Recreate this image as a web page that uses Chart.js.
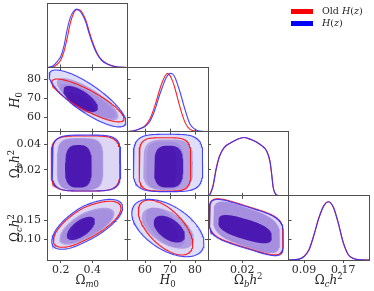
<!DOCTYPE html>
<html><head><meta charset="utf-8">
<script src="https://cdn.jsdelivr.net/npm/chart.js@4.4.0/dist/chart.umd.min.js"></script>
<style>
html,body{margin:0;padding:0;background:#fff;}
#wrap{position:relative;width:374px;height:291px;overflow:hidden;background:#fff;}
#wrap canvas{position:absolute;left:0;top:0;}
.lab{position:absolute;font-family:"DejaVu Serif",serif;font-size:12px;color:#222;white-space:nowrap;line-height:1;transform:translate(-50%,-50%);}
.lab.rot{transform:translate(-50%,-50%) rotate(-90deg);}
.lab i{font-style:italic;}
.sb{font-size:8.5px;position:relative;top:3px;}
.sp{font-size:8.5px;position:relative;top:-5px;}
.leg{position:absolute;font-family:"DejaVu Serif",serif;font-size:9.5px;color:#222;white-space:nowrap;line-height:1;}
.sw{position:absolute;width:22px;height:5px;}
</style></head><body><div id="wrap"></div>
<script>
// ---------- data ----------
const paramLabels = ['Ωm0', 'H0', 'Ωbh2', 'Ωch2'];
const legendLabels = ['Old H(z)', 'H(z)'];
// axis ranges (x in columns, y in rows)
const xRanges = [[0.113, 0.623], [53.0, 85.2], [-0.001, 0.0484], [0.058, 0.223]];
const yRanges = [[0, 1.1], [52.6, 86.0], [0.0, 0.0495], [0.046, 0.215]];
const xTicks = [[0.2, 0.4], [60, 70, 80], [0.02], [0.09, 0.17]];
const yTicks = [[], [60, 70, 80], [0.02, 0.04], [0.10, 0.15]];
const xDecimals = [1, 0, 2, 2];
const yDecimals = [1, 0, 2, 2];

// 1D marginals (normalised density)
const omGrid = [0.12, 0.15, 0.18, 0.20, 0.22, 0.24, 0.26, 0.28, 0.30, 0.32, 0.34, 0.36, 0.38, 0.40, 0.43, 0.46, 0.50, 0.55, 0.62];
const omBlue = [0.0, 0.025, 0.11, 0.19, 0.36, 0.64, 0.85, 0.96, 1.0, 0.97, 0.89, 0.77, 0.58, 0.42, 0.23, 0.12, 0.05, 0.012, 0.0];
const omRed  = [0.0, 0.01, 0.06, 0.13, 0.27, 0.49, 0.75, 0.92, 0.99, 0.99, 0.92, 0.80, 0.62, 0.45, 0.25, 0.13, 0.055, 0.013, 0.0];

const h0Grid = [53, 56, 58, 60, 62, 64, 66, 67, 68, 69, 70, 71, 72, 74, 76, 78, 80, 82, 85];
const h0Blue = [0.0, 0.02, 0.05, 0.09, 0.18, 0.38, 0.65, 0.77, 0.88, 0.96, 1.0, 0.99, 0.93, 0.68, 0.38, 0.13, 0.04, 0.01, 0.0];
const h0Red  = [0.0, 0.02, 0.05, 0.10, 0.22, 0.45, 0.74, 0.86, 0.95, 1.0, 0.96, 0.87, 0.74, 0.42, 0.16, 0.04, 0.01, 0.0, 0.0];

const obGrid = [0.0, 0.002, 0.004, 0.006, 0.009, 0.013, 0.017, 0.021, 0.025, 0.029, 0.032, 0.035, 0.037, 0.038, 0.039, 0.0405, 0.042, 0.048];
const obBlue = [0.01, 0.15, 0.45, 0.67, 0.83, 0.91, 0.97, 1.0, 0.97, 0.92, 0.86, 0.77, 0.60, 0.40, 0.15, 0.03, 0.005, 0.0];
const obRed  = [0.02, 0.17, 0.47, 0.68, 0.83, 0.91, 0.97, 1.0, 0.97, 0.92, 0.86, 0.77, 0.59, 0.38, 0.14, 0.03, 0.005, 0.0];

const ocGrid = [0.058, 0.08, 0.09, 0.10, 0.11, 0.12, 0.13, 0.14, 0.15, 0.16, 0.17, 0.18, 0.19, 0.20, 0.223];
const ocBlue = [0.0, 0.015, 0.06, 0.17, 0.42, 0.71, 0.92, 1.0, 0.91, 0.64, 0.31, 0.10, 0.03, 0.008, 0.0];
const ocRed  = [0.0, 0.016, 0.065, 0.18, 0.43, 0.72, 0.93, 1.0, 0.90, 0.63, 0.30, 0.10, 0.03, 0.008, 0.0];

// 2D credible regions, outer -> inner: [xLo, xHi, yLo, yHi, tilt, skew, squareness]
const omH0Red  = [[0.143, 0.601, 57.7, 80.0, -0.85, 0, 2], [0.19, 0.55, 59.5, 77.5, -0.82, 0, 2], [0.234, 0.417, 62.3, 73.2, -0.7, 0, 2]];
const omH0Blue = [[0.126, 0.613, 55.1, 84.7, -0.82, 0, 2], [0.175, 0.565, 58.5, 80.5, -0.8, 0, 2], [0.215, 0.436, 62.9, 76.4, -0.68, 0, 2]];
const omObRed  = [[0.139, 0.575, 0.0038, 0.0462, 0, 0, 4.5], [0.18, 0.465, 0.0045, 0.044, 0, 0, 4], [0.235, 0.40, 0.0064, 0.039, 0, 0, 3]];
const omObBlue = [[0.145, 0.580, 0.0038, 0.0469, 0, 0, 4.5], [0.175, 0.47, 0.0045, 0.0446, 0, 0, 4], [0.227, 0.396, 0.0064, 0.0392, 0, 0, 3]];
const h0ObRed  = [[57.6, 78.3, 0.0038, 0.0448, 0, 0, 4.5], [60.5, 75.5, 0.005, 0.042, 0, 0, 3.5], [63.6, 72.5, 0.0064, 0.0385, 0, 0, 3]];
const h0ObBlue = [[55.3, 83.1, 0.0033, 0.0475, 0, 0, 4], [59.2, 79.2, 0.0045, 0.0435, 0, 0, 3.5], [63.6, 75.3, 0.0064, 0.0387, 0, 0, 3]];
const omOcRed  = [[0.153, 0.582, 0.0795, 0.201, 0.70, 0.1, 2], [0.20, 0.53, 0.090, 0.180, 0.70, 0.1, 2], [0.27, 0.406, 0.107, 0.156, 0.62, 0, 2]];
const omOcBlue = [[0.143, 0.592, 0.0742, 0.2058, 0.68, 0.1, 2], [0.19, 0.54, 0.086, 0.184, 0.68, 0.1, 2], [0.238, 0.417, 0.0987, 0.160, 0.62, 0, 2]];
const h0OcRed  = [[57.3, 79.1, 0.0592, 0.204, -0.6, 0, 2], [60.3, 76.0, 0.0795, 0.184, -0.6, 0, 2], [63.3, 73.3, 0.095, 0.160, -0.55, 0, 2]];
const h0OcBlue = [[54.7, 83.6, 0.0547, 0.2058, -0.52, 0, 2], [58.7, 79.6, 0.0756, 0.184, -0.52, 0, 2], [63.5, 76.0, 0.092, 0.163, -0.5, 0, 2]];
const obOcRed  = [[-0.0002, 0.0450, 0.0594, 0.2075, -0.48, 0, 4.5], [0.0022, 0.0431, 0.0650, 0.2005, -0.5, 0, 3.5], [0.0053, 0.0381, 0.0905, 0.1650, -0.6, 0, 2.8]];
const obOcBlue = [[-0.0002, 0.0452, 0.0574, 0.2058, -0.48, 0, 4.5], [0.0022, 0.0431, 0.0637, 0.1995, -0.5, 0, 3.5], [0.0053, 0.0381, 0.0900, 0.1645, -0.6, 0, 2.8]];

// ---------- layout / style ----------
const W = 374, H = 291;
const colEdges = [47, 127.5, 208, 288.5, 369];
const rowEdges = [3.3, 67.5, 131.7, 195.9, 260];
const frameColor = '#505050';
const tickFont = {family: '"DejaVu Serif", serif', size: 11};
const redLine = 'rgba(255,20,20,0.95)', blueLine = 'rgba(50,50,255,0.9)';
const redFill = ['rgb(255,235,240)', 'rgb(175,140,220)', 'rgb(110,0,150)'];
const blueFill = ['rgba(200,200,248,0.6)', 'rgba(148,122,212,0.6)', 'rgba(55,0,170,0.8)'];
const wrap = document.getElementById('wrap');

function regionPoints(p) {
  const [xlo, xhi, ylo, yhi, rho, skew, n] = p;
  const N = 180, raw = [];
  for (let k = 0; k < N; k++) {
    const t = 2 * Math.PI * k / N, c = Math.cos(t), s = Math.sin(t);
    const u = Math.sign(c) * Math.pow(Math.abs(c), 2 / n);
    const v = Math.sign(s) * Math.pow(Math.abs(s), 2 / n);
    raw.push([u * (u < 0 ? 1 - skew : 1 + skew), rho * u + Math.sqrt(1 - rho * rho) * v]);
  }
  const xs = raw.map(r => r[0]), ys = raw.map(r => r[1]);
  const x0 = Math.min(...xs), x1 = Math.max(...xs), y0 = Math.min(...ys), y1 = Math.max(...ys);
  const pts = raw.map(r => ({x: xlo + (r[0] - x0) / (x1 - x0) * (xhi - xlo), y: ylo + (r[1] - y0) / (y1 - y0) * (yhi - ylo)}));
  pts.push(pts[0]);
  return pts;
}

function regionSets(red, blue) {
  const ds = [];
  red.forEach((p, k) => ds.push({data: regionPoints(p), showLine: true, fill: 'shape', backgroundColor: redFill[k], borderColor: 'rgba(0,0,0,0)', borderWidth: 0, pointRadius: 0, order: 100 - k}));
  blue.forEach((p, k) => ds.push({data: regionPoints(p), showLine: true, fill: 'shape', backgroundColor: blueFill[k], borderColor: 'rgba(0,0,0,0)', borderWidth: 0, pointRadius: 0, order: 90 - k}));
  ds.push({data: regionPoints(red[0]), showLine: true, fill: false, borderColor: redLine, borderWidth: 1.1, pointRadius: 0, order: 11});
  ds.push({data: regionPoints(blue[0]), showLine: true, fill: false, borderColor: blueLine, borderWidth: 1.1, pointRadius: 0, order: 10});
  return ds;
}

function curveSets(grid, red, blue) {
  const mk = (vals, col, ord) => ({data: grid.map((x, k) => ({x, y: vals[k]})), showLine: true, fill: false, borderColor: col, borderWidth: 1.1, pointRadius: 0, cubicInterpolationMode: 'monotone', order: ord});
  return [mk(red, redLine, 2), mk(blue, blueLine, 1)];
}

function panel(i, j, datasets) {
  const cv = document.createElement('canvas');
  cv.width = W; cv.height = H;
  wrap.appendChild(cv);
  const L = colEdges[j], R = colEdges[j + 1], T = rowEdges[i], B = rowEdges[i + 1];
  const diag = i === j;
  const xt = xTicks[j], yt = diag ? [] : yTicks[i];
  const yr = diag ? [0, 1.1] : yRanges[i];
  const sc = (pos, rng, ticks, dec, showLabels, showMarks, fit) => ({
    type: 'linear', position: pos, min: rng[0], max: rng[1],
    afterBuildTicks: s => { s.ticks = ticks.map(v => ({value: v})); },
    afterFit: fit,
    ticks: {display: showLabels, font: tickFont, color: '#2a2a2a', padding: pos === 'left' ? 3 : 1, maxRotation: 0, autoSkip: false, callback: v => Number(v).toFixed(dec)},
    grid: {display: showMarks, drawOnChartArea: false, drawTicks: true, tickLength: 3, color: frameColor, lineWidth: 1},
    border: {display: true, color: frameColor, width: 1}
  });
  new Chart(cv, {
    type: 'scatter',
    data: {datasets},
    options: {
      responsive: false, animation: false, devicePixelRatio: 1, events: [],
      layout: {padding: {left: 0, top: T, right: W - R, bottom: 0}},
      plugins: {legend: {display: false}, tooltip: {enabled: false}},
      scales: {
        x: sc('bottom', xRanges[j], xt, xDecimals[j], i === 3, true, s => { s.height = H - B; }),
        x2: sc('top', xRanges[j], xt, xDecimals[j], false, !diag, s => { s.height = 0; }),
        y: sc('left', yr, yt, yDecimals[i], j === 0 && !diag, !diag, s => { s.width = L; }),
        y2: sc('right', yr, yt, yDecimals[i], false, !diag, s => { s.width = 0; })
      }
    }
  });
}

panel(0, 0, curveSets(omGrid, omRed, omBlue));
panel(1, 1, curveSets(h0Grid, h0Red, h0Blue));
panel(2, 2, curveSets(obGrid, obRed, obBlue));
panel(3, 3, curveSets(ocGrid, ocRed, ocBlue));
panel(1, 0, regionSets(omH0Red, omH0Blue));
panel(2, 0, regionSets(omObRed, omObBlue));
panel(2, 1, regionSets(h0ObRed, h0ObBlue));
panel(3, 0, regionSets(omOcRed, omOcBlue));
panel(3, 1, regionSets(h0OcRed, h0OcBlue));
panel(3, 2, regionSets(obOcRed, obOcBlue));

// ---------- axis titles & legend (real text) ----------
const titleHTML = [
  'Ω<span class="sb"><i>m</i>0</span>',
  '<i>H</i><span class="sb">0</span>',
  'Ω<span class="sb"><i>b</i></span><i>h</i><span class="sp">2</span>',
  'Ω<span class="sb"><i>c</i></span><i>h</i><span class="sp">2</span>'
];
function addLabel(html, x, y, rot) {
  const d = document.createElement('div');
  d.className = 'lab' + (rot ? ' rot' : '');
  d.innerHTML = html; d.style.left = x + 'px'; d.style.top = y + 'px';
  wrap.appendChild(d);
}
for (let j = 0; j < 4; j++) addLabel(titleHTML[j], (colEdges[j] + colEdges[j + 1]) / 2, 280, false);
for (let i = 1; i < 4; i++) addLabel(titleHTML[i], 15, (rowEdges[i] + rowEdges[i + 1]) / 2, true);

const legColors = ['rgb(255,0,0)', 'rgb(0,0,255)'];
const legHTML = ['Old <i>H</i>(<i>z</i>)', '<i>H</i>(<i>z</i>)'];
legendLabels.forEach((t, k) => {
  const sw = document.createElement('div');
  sw.className = 'sw'; sw.style.left = '291px'; sw.style.top = (8.5 + k * 12.7) + 'px'; sw.style.background = legColors[k];
  wrap.appendChild(sw);
  const tx = document.createElement('div');
  tx.className = 'leg'; tx.style.left = '322px'; tx.style.top = (5.5 + k * 12.7) + 'px';
  tx.innerHTML = legHTML[k]; tx.title = t;
  wrap.appendChild(tx);
});
</script></body></html>
